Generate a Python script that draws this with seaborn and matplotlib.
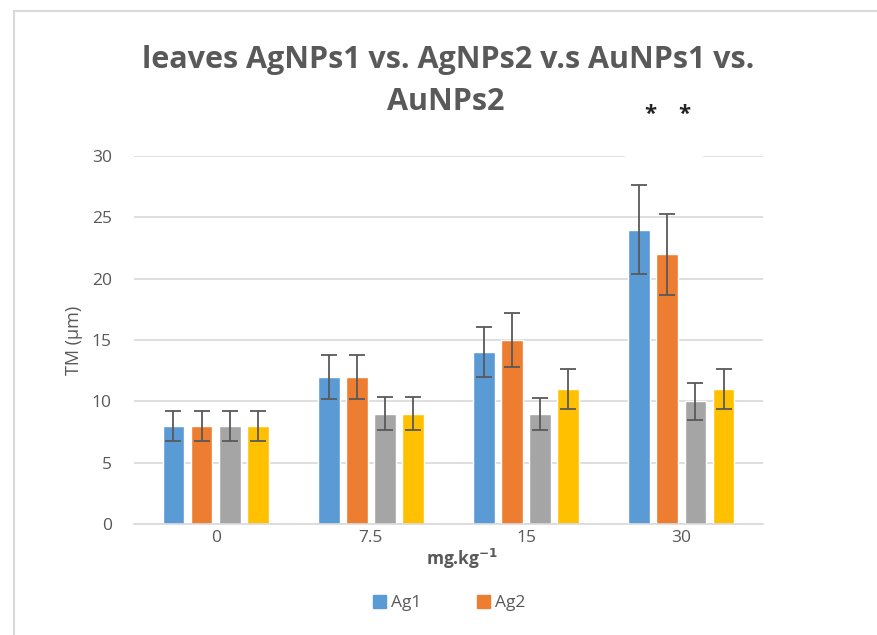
import matplotlib
matplotlib.use("Agg")
import matplotlib.pyplot as plt
import seaborn as sns
import pandas as pd
from matplotlib.patches import Rectangle

categories = ["0", "7.5", "15", "30"]
series = ["Ag1", "Ag2", "Ag3", "Ag4"]
ag1 = [8, 12, 14, 24]
ag2 = [8, 12, 15, 22]
ag3 = [8, 9, 9, 10]
ag4 = [8, 9, 11, 11]
err1 = [1.2, 1.8, 2.05, 3.6]
err2 = [1.2, 1.8, 2.2, 3.3]
err3 = [1.2, 1.35, 1.3, 1.5]
err4 = [1.2, 1.35, 1.65, 1.65]
colors = ["#5B9BD5", "#ED7D31", "#A5A5A5", "#FFC000"]

sns.set_theme(style="white")
plt.rcParams['font.family'] = ['Open Sans', 'DejaVu Sans']

rows = []
for s, vals, errs in zip(series, [ag1, ag2, ag3, ag4], [err1, err2, err3, err4]):
    for c, v, e in zip(categories, vals, errs):
        rows.append({"dose": c, "series": s, "value": v, "err": e})
df = pd.DataFrame(rows)

fig = plt.figure(figsize=(8.78, 6.35), dpi=100)
ax = fig.add_axes([134/878, 1-524/635, (763-134)/878, (524-156)/635])

sns.barplot(data=df, x="dose", y="value", hue="series", order=categories,
            hue_order=series, palette=colors, saturation=1, errorbar=None, width=0.725,
            gap=0.23, ax=ax, legend=False, zorder=2)

# error bars from bar patch positions
bars = [p for p in ax.patches]
for i, s in enumerate(series):
    sub = df[df.series == s]
    for j, c in enumerate(categories):
        p = bars[i * len(categories) + j]
        xc = p.get_x() + p.get_width() / 2
        ax.errorbar(xc, sub.value.iloc[j], yerr=sub.err.iloc[j], fmt="none",
                    ecolor="#595959", elinewidth=1.3, capsize=5.5, capthick=1.3, zorder=3)

ax.set_ylim(0, 30)
ax.set_yticks([0, 5, 10, 15, 20, 25, 30])
ax.yaxis.grid(True, color="#D9D9D9", linewidth=1.2, zorder=0)
ax.set_axisbelow(True)
for sp in ["top", "right", "left"]:
    ax.spines[sp].set_visible(False)
ax.spines["bottom"].set_color("#D9D9D9")
ax.spines["bottom"].set_linewidth(1.2)
ax.tick_params(axis="both", length=0, labelsize=12.5, labelcolor="#595959")
ax.tick_params(axis="y", pad=16)
ax.tick_params(axis="x", pad=4)
ax.set_xlabel("")
ax.set_ylabel("TM (µm)", fontsize=13, color="#595959", labelpad=6)

# white box behind stars covering part of top gridline
ax.add_patch(Rectangle((2.64, 29.4), 0.5, 5, facecolor="white", edgecolor="none",
                       zorder=1.5, clip_on=False, transform=ax.transData))
ax.text(2.80, 33.4, "*", ha="center", va="center", fontsize=16, fontweight="bold", color="#222222")
ax.text(3.02, 33.4, "*", ha="center", va="center", fontsize=16, fontweight="bold", color="#222222")

fig.text(448/878, 1-60/635, "leaves AgNPs1 vs. AgNPs2 v.s AuNPs1 vs.", ha="center", va="center",
         fontsize=22, fontweight="bold", color="#595959")
fig.text(446/878, 1-102/635, "AuNPs2", ha="center", va="center",
         fontsize=22, fontweight="bold", color="#595959")

fig.text(462/878, 1-559/635, r"mg.kg$^{\mathbf{-1}}$", ha="center", va="center",
         fontsize=12.5, fontweight="bold", color="#595959")

# legend (only first two entries visible)
handles = [Rectangle((0, 0), 1, 1, color=colors[0]), Rectangle((0, 0), 1, 1, color=colors[1])]
fig.legend(handles, series[:2], loc="center", bbox_to_anchor=(449/878, 1-603/635), ncol=2,
           frameon=False, fontsize=12.5, labelcolor="#595959", handlelength=0.75, handleheight=0.75,
           handletextpad=0.3, columnspacing=3.2)

# chart border
fig.patches.append(Rectangle((14/878, -0.1), 1.2, 1 - 11/635 + 0.1, transform=fig.transFigure,
                             facecolor="none", edgecolor="#D9D9D9", linewidth=1.5, zorder=0))

fig.savefig("out.png", dpi=100, facecolor="white")
